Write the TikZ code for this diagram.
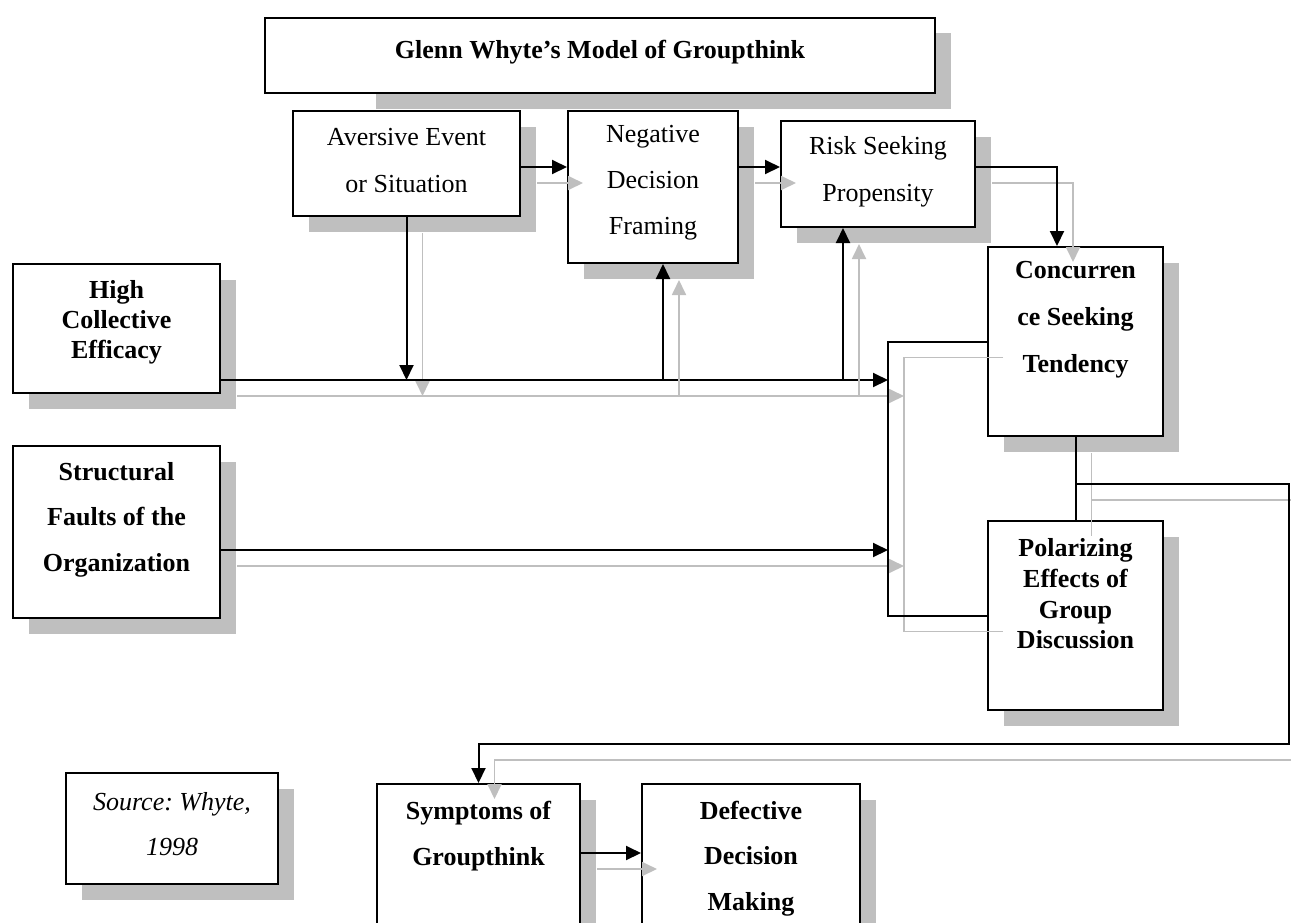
\documentclass[tikz,border=0pt]{standalone}
\usepackage{fontspec}
\setmainfont{Liberation Serif}
\usetikzlibrary{arrows.meta,shadows}
\definecolor{shadegray}{gray}{0.75}
\frenchspacing
\tikzset{
	box/.style={draw, line width=1pt, fill=white, inner sep=0pt,
			drop shadow={shadow xshift=8pt, shadow yshift=-8pt, fill=shadegray, opacity=1}},
	words/.style={align=center, inner sep=0pt, font={\fontsize{13pt}{#1}\selectfont}},
	bwords/.style={align=center, inner sep=0pt, font={\fontsize{13pt}{#1}\selectfont\bfseries}},
	iwords/.style={align=center, inner sep=0pt, font={\fontsize{13pt}{#1}\selectfont\itshape}},
	main line/.style={draw=black, line width=1pt},
	shade line/.style={draw=shadegray, line width=0.9pt},
	>={Triangle[length=7.5pt, width=7pt]}
}
\newcommand{\twin}[2][]{%
	\draw[shade line, #1, transform canvas={shift={(8pt,-8pt)}}] #2;
	\draw[main line, #1] #2;}

\begin{document}
\begin{tikzpicture}[x=0.5pt, y=-0.5pt]
	\useasboundingbox (0,0) rectangle (1291,922);
	\clip (0,0) rectangle (1291,922);

	\fill[shadegray] (376,33) rectangle (951,109);
	\node[draw, line width=1pt, fill=white, minimum width=335pt, minimum height=37.5pt] (title) at (600,55.5) {};

	\node[box, minimum width=113.5pt, minimum height=52.5pt] (aversive) at (406.5,163.5) {};
	\node[box, minimum width=85pt, minimum height=76pt] (negative) at (653,187) {};
	\node[box, minimum width=97pt, minimum height=53pt] (risk) at (878,174) {};
	\node[box, minimum width=103.5pt, minimum height=64.5pt] (hce) at (116.5,328.5) {};
	\node[box, minimum width=103.5pt, minimum height=86pt] (struct) at (116.5,532) {};
	\node[box, minimum width=87.5pt, minimum height=94.5pt] (conc) at (1075.5,341.5) {};
	\node[box, minimum width=87.5pt, minimum height=94.5pt] (polar) at (1075.5,615.5) {};
	\node[box, minimum width=106pt, minimum height=55.5pt] (source) at (172,828.5) {};
	\node[box, minimum width=101.5pt, minimum height=88pt] (sym) at (478.5,872) {};
	\node[box, minimum width=109pt, minimum height=88pt] (defect) at (751,872) {};

	\node[bwords=16pt] (titletxt) at (600,52) {Glenn Whyte's Model of Groupthink};
	\node[words=23.5pt] (aversivetxt) at (406.5,160.5) {Aversive Event\\or Situation};
	\node[words=23pt] (negativetxt) at (653,182.5) {Negative\\Decision\\Framing};
	\node[words=23.5pt] (risktxt) at (878,171.5) {Risk Seeking\\Propensity};
	\node[bwords=15pt] (hcetxt) at (116.5,322) {High\\Collective\\Efficacy};
	\node[bwords=22.75pt] (structtxt) at (116.5,519.5) {Structural\\Faults of the\\Organization};
	\node[bwords=23.5pt] (conctxt) at (1075.5,320) {Concurren\\ce Seeking\\Tendency};
	\node[bwords=15.3pt] (polartxt) at (1075.5,594) {Polarizing\\Effects of\\Group\\Discussion};
	\node[iwords=22.5pt] (sourcetxt) at (172,824.5) {Source: Whyte,\\1998};
	\node[bwords=23pt] (symtxt) at (478.5,836) {Symptoms of\\Groupthink};
	\node[bwords=22.75pt] (defecttxt) at (751,858.5) {Defective\\Decision\\Making};

	\coordinate (toprow) at (0,167);
	\coordinate (hcline) at (0,380);
	\coordinate (strow) at (0,550);
	\coordinate (brk) at (888,0);
	\coordinate (riskdrop) at (1057,0);
	\coordinate (loopy) at (0,484);
	\coordinate (loopx) at (1289,0);
	\coordinate (loopb) at (0,744);
	\coordinate (botrow) at (0,853);
	\coordinate (negup) at ([xshift=5pt]negative.south);
	\coordinate (riskup) at ([xshift=-17.5pt]risk.south);

	\twin[->]{(aversive.east |- toprow) -- (negative.west |- toprow)}
	\twin[->]{(negative.east |- toprow) -- (risk.west |- toprow)}
	\twin[->]{(risk.east |- toprow) -- (riskdrop |- toprow) -- (riskdrop |- conc.north)}
	\twin[->]{(aversive.south) -- (aversive.south |- hcline)}
	\twin[->]{(hce.east |- hcline) -- (brk |- hcline)}
	\twin[->]{(negup |- hcline) -- (negup)}
	\twin[->]{(riskup |- hcline) -- (riskup)}
	\twin[->]{(struct.east |- strow) -- (brk |- strow)}
	\twin{(conc.west) -- (brk |- conc.west) -- (brk |- polar.west) -- (polar.west)}
	\twin{(conc.south) -- (polar.north)}
	\twin[->]{(conc.south |- loopy) -- (loopx |- loopy) -- (loopx |- loopb) -- (sym.north |- loopb) -- (sym.north)}
	\twin[->]{(sym.east |- botrow) -- (defect.west |- botrow)}
\end{tikzpicture}
\end{document}
